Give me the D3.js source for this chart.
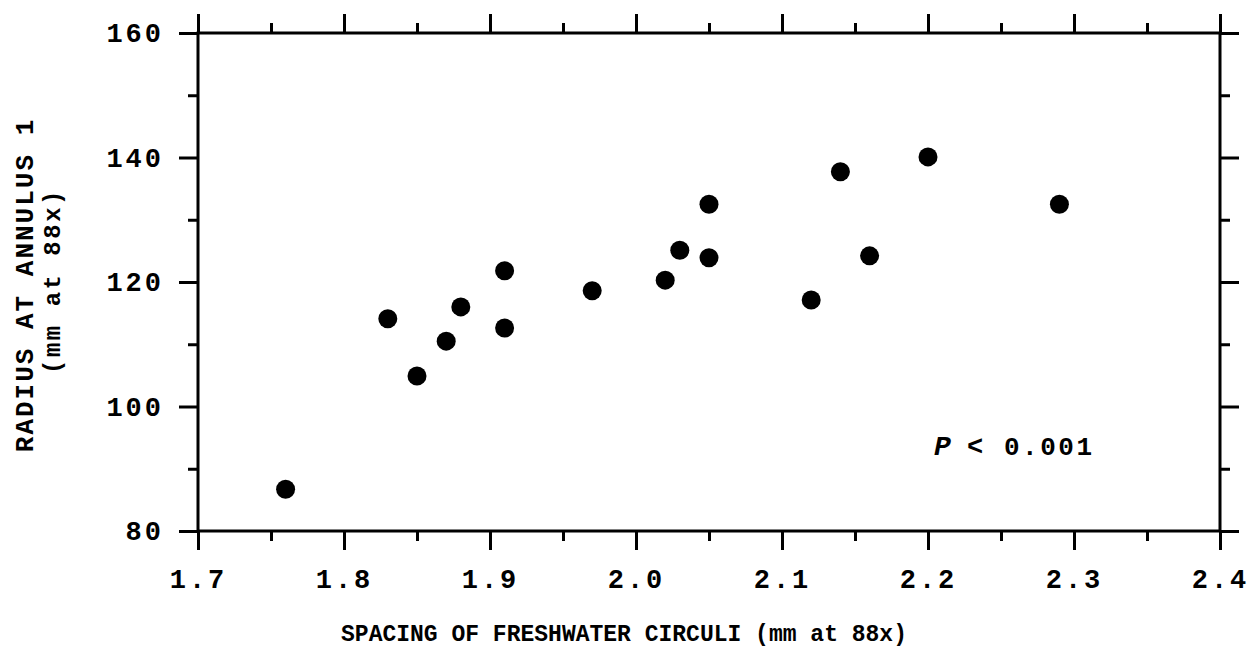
<!DOCTYPE html>
<html><head><meta charset="utf-8">
<script src="https://cdn.jsdelivr.net/npm/d3@7/dist/d3.min.js"></script>
<style>body{margin:0;background:#fff}svg{display:block}text{font-family:"Liberation Mono","Courier New",monospace;font-weight:bold;fill:#000}</style>
</head><body><svg id="c" width="1249" height="648"></svg>
<script>
const spacing = [1.76,1.83,1.85,1.87,1.88,1.91,1.91,1.97,2.02,2.03,2.05,2.05,2.12,2.14,2.16,2.20,2.29];
const radius  = [86.7,114.1,104.9,110.5,116.0,121.8,112.6,118.6,120.3,125.1,132.5,123.9,117.1,137.7,124.2,140.1,132.5];
const xTicks = [1.7,1.8,1.9,2.0,2.1,2.2,2.3,2.4];
const yTicks = [80,100,120,140,160];
const xMinor = [1.75,1.85,1.95,2.05,2.15,2.25,2.35];
const yMinor = [90,110,130,150];
const xLabel = "SPACING OF FRESHWATER CIRCULI (mm at 88x)";
const yLabel1 = "RADIUS AT ANNULUS 1";
const yLabel2 = "(mm at 88x)";

const svg = d3.select("#c");
const L=198, R=1220, T=33, B=531;
const x = d3.scaleLinear().domain([1.7,2.4]).range([L,R]);
const y = d3.scaleLinear().domain([80,160]).range([B,T]);
const sw = 3;

svg.append("rect").attr("x",L).attr("y",T).attr("width",R-L).attr("height",B-T)
  .attr("fill","none").attr("stroke","#000").attr("stroke-width",sw);

const fX = d3.format(".1f");
svg.append("g").attr("transform",`translate(0,${B})`)
  .call(d3.axisBottom(x).tickValues(xTicks).tickSize(19).tickPadding(19).tickFormat(fX));
svg.append("g").attr("transform",`translate(0,${T})`)
  .call(d3.axisTop(x).tickValues(xTicks).tickSize(19).tickFormat(""));
svg.append("g").attr("transform",`translate(${L},0)`)
  .call(d3.axisLeft(y).tickValues(yTicks).tickSize(19).tickPadding(15).tickFormat(d3.format("d")));
svg.append("g").attr("transform",`translate(${R},0)`)
  .call(d3.axisRight(y).tickValues(yTicks).tickSize(19).tickFormat(""));

svg.append("g").attr("transform",`translate(0,${B})`).call(d3.axisBottom(x).tickValues(xMinor).tickSize(10).tickFormat(""));
svg.append("g").attr("transform",`translate(0,${T})`).call(d3.axisTop(x).tickValues(xMinor).tickSize(10).tickFormat(""));
svg.append("g").attr("transform",`translate(${L},0)`).call(d3.axisLeft(y).tickValues(yMinor).tickSize(10).tickFormat(""));
svg.append("g").attr("transform",`translate(${R},0)`).call(d3.axisRight(y).tickValues(yMinor).tickSize(10).tickFormat(""));

svg.selectAll(".domain").remove();
svg.selectAll(".tick line").attr("stroke","#000").attr("stroke-width",sw);
svg.selectAll(".tick text").attr("font-size",27).attr("letter-spacing",3)
  .attr("font-family","'Liberation Mono','Courier New',monospace").attr("font-weight","bold");

svg.append("g").selectAll("circle").data(spacing).enter().append("circle")
  .attr("cx",(d)=>x(d)).attr("cy",(d,i)=>y(radius[i])).attr("r",9.5).attr("fill","#000");

svg.append("text").attr("x",624).attr("y",641).attr("text-anchor","middle")
  .attr("font-size",23).text(xLabel);
svg.append("text").attr("transform","translate(33,285) rotate(-90)").attr("text-anchor","middle")
  .attr("font-size",26).attr("letter-spacing",2).text(yLabel1);
svg.append("text").attr("transform","translate(60,281) rotate(-90)").attr("text-anchor","middle")
  .attr("font-size",24).attr("letter-spacing",2.5).text(yLabel2);

svg.append("text").attr("x",934).attr("y",455).attr("font-size",28)
  .attr("font-style","italic").attr("font-family","'Liberation Serif',serif").text("P");
svg.append("text").attr("x",967).attr("y",455).attr("font-size",27).text("<");
svg.append("text").attr("x",1004).attr("y",455).attr("font-size",26).attr("letter-spacing",2.5).text("0.001");
</script></body></html>
